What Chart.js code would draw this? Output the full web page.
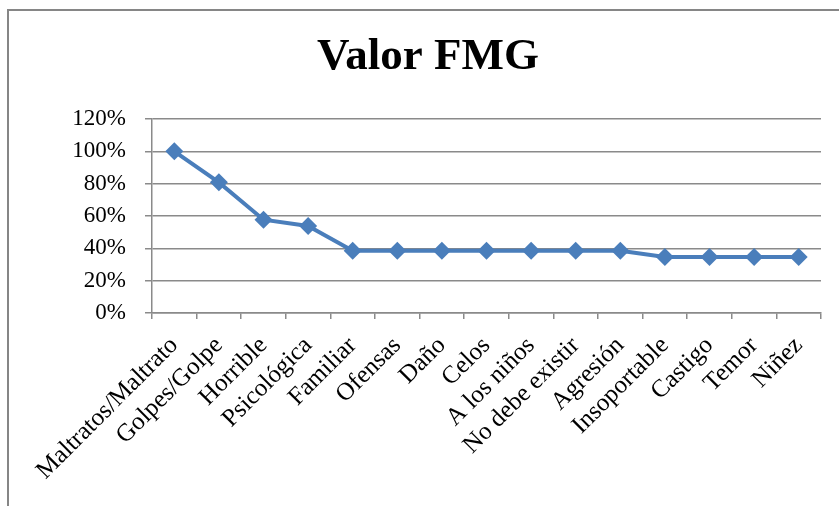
<!DOCTYPE html>
<html>
<head>
<meta charset="utf-8">
<script src="https://cdn.jsdelivr.net/npm/chart.js@4/dist/chart.umd.min.js"></script>
<style>
  html, body { margin: 0; padding: 0; background: #fff; overflow: hidden; }
  #wrap { width: 839px; height: 506px; position: relative; }
</style>
</head>
<body>
<div id="wrap"><canvas id="chart"></canvas></div>
<script>
const categories = ['Maltratos/Maltrato', 'Golpes/Golpe', 'Horrible', 'Psicológica', 'Familiar', 'Ofensas', 'Daño', 'Celos', 'A los niños', 'No debe existir', 'Agresión', 'Insoportable', 'Castigo', 'Temor', 'Niñez'];
const fmgValues = [100, 80.8, 57.7, 53.8, 38.5, 38.5, 38.5, 38.5, 38.5, 38.5, 38.5, 34.6, 34.6, 34.6, 34.6];
const yTicks = { min: 0, max: 120, step: 20 };

const serif = "'Liberation Serif', 'Times New Roman', serif";
const gridGray = '#8a8a8a';

// outer frame of the original chart object (only top and left edges are visible)
const framePlugin = {
  id: 'frame',
  beforeDraw (chart) {
    const ctx = chart.ctx;
    ctx.save();
    ctx.strokeStyle = '#868686';
    ctx.lineWidth = 2;
    ctx.beginPath();
    ctx.moveTo(8, chart.height);
    ctx.lineTo(8, 10);
    ctx.lineTo(chart.width, 10);
    ctx.stroke();
    ctx.restore();
  },
};

new Chart(document.getElementById('chart'), {
  type: 'line',
  data: {
    labels: categories,
    datasets: [{
      label: 'Valor FMG',
      data: fmgValues,
      borderColor: '#4a7ebb',
      backgroundColor: '#4a7ebb',
      borderWidth: 4,
      pointStyle: 'rectRot',
      pointRadius: 9,
      pointHoverRadius: 9,
      pointBorderWidth: 0,
      tension: 0,
      fill: false,
    }],
  },
  options: {
    responsive: true,
    maintainAspectRatio: false,
    animation: false,
    layout: { padding: { left: 35, right: 18, top: 0, bottom: 0 } },
    plugins: {
      legend: { display: false },
      tooltip: { enabled: false },
      title: {
        display: true,
        text: 'Valor FMG',
        color: '#000',
        font: { family: serif, size: 45, weight: 'bold', lineHeight: 1.2 },
        padding: { top: 30, bottom: 35 },
      },
    },
    scales: {
      x: {
        offset: true,
        grid: {
          offset: true,
          drawOnChartArea: false,
          drawTicks: true,
          tickLength: 6,
          color: gridGray,
          lineWidth: 1.5,
        },
        border: { color: gridGray, width: 1.5 },
        ticks: {
          autoSkip: false,
          maxRotation: 45,
          minRotation: 45,
          padding: 12,
          color: '#000',
          font: { family: serif, size: 25 },
        },
        afterFit (scale) { scale.height = 193; },
      },
      y: {
        min: yTicks.min,
        max: yTicks.max,
        grid: {
          color: gridGray,
          lineWidth: 1.5,
          tickLength: 7,
        },
        border: { color: gridGray, width: 1.5 },
        ticks: {
          stepSize: yTicks.step,
          padding: 19,
          color: '#000',
          font: { family: serif, size: 23 },
          callback: (v) => v + '%',
        },
        afterFit (scale) { scale.width = 117; },
      },
    },
  },
  plugins: [framePlugin],
});
</script>
</body>
</html>
